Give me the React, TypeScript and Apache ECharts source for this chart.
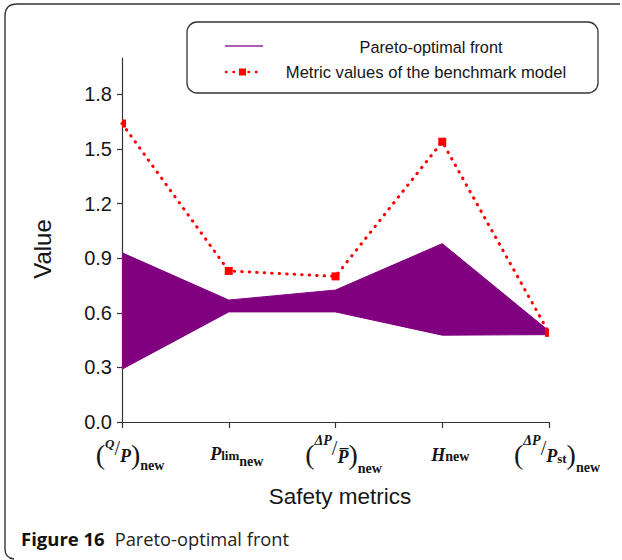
import React, { useEffect, useRef } from "react";
import * as echarts from "echarts";

// ---- data ----
const categories = ["Q/P", "Plim", "ΔP/P̄", "H", "ΔP/Pst"];
const categoryLabels = [
  "{pr|(}{q0|Q}{sl|/}{p0|P}{pr|)}{n0|new}",
  "{p1|P}{lim|lim}{n1|new}",
  "{pr|(}{d2|ΔP}{sl|/}{p2|P\u0305}{pr|)}{n2|new}",
  "{p3|H}{n3|new}",
  "{pr|(}{d2|ΔP}{sl|/}{p4|P}{st|st}{pr|)}{n4|new}",
];
const frontUpper = [0.93, 0.67, 0.725, 0.98, 0.5];
const frontLower = [0.29, 0.605, 0.605, 0.477, 0.48];
const benchmark = [1.64, 0.83, 0.8, 1.54, 0.49];
const yTicks = [0, 0.3, 0.6, 0.9, 1.2, 1.5, 1.8];
const legendNames = ["Pareto-optimal front", "Metric values of the benchmark model"];
const captionBold = "Figure 16";
const captionText = "Pareto-optimal front";

const PURPLE = "#800080";
const RED = "#ff0000";
const INK = "#161616";
const SANS = "'Liberation Sans', Arial, sans-serif";
const SERIF = "'Liberation Serif', 'DejaVu Serif', serif";
const CAP = "'Open Sans', 'Noto Sans', sans-serif";
const FRAME_D = "M 620 4 L 17 4 Q 5 4 5 16 L 5 549 Q 5 558 14 559";

const tok = (fontSize: number, top: number, lh: number, bold = true, italic = true) => ({
  fontFamily: SERIF,
  fontSize,
  fontWeight: bold ? "bold" : "normal",
  fontStyle: italic ? "italic" : "normal",
  lineHeight: lh,
  verticalAlign: "top",
  padding: [top, 0, 0, 0],
  color: INK,
});

const rich: any = {
  pr: { ...tok(28, 8, 30, false, false) },
  sl: { ...tok(20, 6, 24, false, false) },
  q0: tok(13, 5, 20),
  p0: tok(18, 15, 20),
  n0: tok(14, 26, 20, true, false),
  p1: tok(18, 13, 20),
  lim: tok(13, 17, 20, true, false),
  n1: tok(14, 22, 20, true, false),
  d2: { ...tok(14, 1, 20), fontStyle: "italic" },
  p2: tok(18, 16, 20),
  n2: tok(14, 29, 20, true, false),
  p3: tok(18, 14, 20),
  n3: tok(14, 17, 20, true, false),
  p4: tok(18, 15, 20),
  st: tok(13, 20, 20, true, false),
  n4: tok(14, 28, 20, true, false),
};

function buildOption(): any {
  const last = benchmark.length - 1;
  return {
    animation: false,
    backgroundColor: "#ffffff",
    grid: { left: 122, right: 73, top: 58, bottom: 138, containLabel: false, outerBoundsMode: "none" },
    xAxis: {
      type: "category",
      data: categories,
      boundaryGap: false,
      axisLine: { lineStyle: { color: "#333", width: 1.2 } },
      axisTick: { show: true, length: 6, alignWithLabel: true, lineStyle: { color: "#333", width: 1.2 } },
      axisLabel: {
        interval: 0,
        margin: 10,
        padding: [0, 0, 0, 16],
        formatter: (_v: string, i: number) => categoryLabels[i],
        rich,
      },
      splitLine: { show: false },
      name: "Safety metrics",
      nameLocation: "middle",
      nameGap: 63,
      nameTextStyle: { fontFamily: SANS, fontSize: 22.5, color: INK, padding: [0, 0, 0, 9] },
    },
    yAxis: {
      type: "value",
      min: 0,
      max: 2.0,
      interval: 0.3,
      axisLine: { show: true, lineStyle: { color: "#333", width: 1.2 } },
      axisTick: { show: true, length: 5, customValues: yTicks, lineStyle: { color: "#333", width: 1.2 } },
      axisLabel: {
        customValues: yTicks,
        margin: 10,
        fontFamily: SANS,
        fontSize: 20,
        color: INK,
        formatter: (v: number) => v.toFixed(1),
      },
      splitLine: { show: false },
      name: "Value",
      nameLocation: "middle",
      nameRotate: 90,
      nameGap: 68,
      nameTextStyle: { fontFamily: SANS, fontSize: 24, color: INK, padding: [0, 18, 0, 0] },
    },
    series: [
      {
        name: "front-lower",
        type: "line",
        stack: "front",
        data: frontLower,
        symbol: "none",
        silent: true,
        lineStyle: { color: PURPLE, width: 1 },
        z: 2,
      },
      {
        name: legendNames[0],
        type: "line",
        stack: "front",
        data: frontUpper.map((u, i) => +(u - frontLower[i]).toFixed(3)),
        symbol: "none",
        silent: true,
        lineStyle: { color: PURPLE, width: 1 },
        areaStyle: { color: PURPLE, opacity: 1 },
        z: 2,
      },
      {
        name: legendNames[1],
        type: "line",
        clip: false,
        data: benchmark.map((v, i) => ({
          value: v,
          symbolSize: i === 0 || i === last ? [4, 8] : 8,
          symbolOffset: i === 0 ? [2, 0] : i === last ? [-2, 0] : [0, 0],
        })),
        symbol: "rect",
        itemStyle: { color: RED },
        lineStyle: { color: RED, width: 3, type: [0.5, 7], cap: "round" },
        z: 5,
      },
    ],
    graphic: [
      {
        type: "figframe",
        x: 0,
        y: 0,
        silent: true,
        style: { fill: "none", stroke: "#333", lineWidth: 1.4 },
      },
      {
        type: "rect",
        shape: { x: 187, y: 22, width: 411, height: 71, r: 10 },
        style: { fill: "#fff", stroke: "#333", lineWidth: 1.3 },
        z: 10,
      },
      {
        type: "line",
        shape: { x1: 225, y1: 46, x2: 263, y2: 46 },
        style: { stroke: "#93279a", lineWidth: 1.6 },
        z: 11,
      },
      {
        type: "text",
        x: 431,
        y: 47,
        style: { text: legendNames[0], fontFamily: SANS, fontSize: 16.3, fill: INK, align: "center", verticalAlign: "middle" },
        z: 11,
      },
      {
        type: "line",
        shape: { x1: 226, y1: 72, x2: 261, y2: 72 },
        style: { stroke: RED, lineWidth: 2.5, lineDash: [0.5, 7], lineCap: "round" },
        z: 11,
      },
      {
        type: "rect",
        shape: { x: 239, y: 68.5, width: 7, height: 7 },
        style: { fill: RED },
        z: 11,
      },
      {
        type: "text",
        x: 426,
        y: 72,
        style: { text: legendNames[1], fontFamily: SANS, fontSize: 16.6, fill: INK, align: "center", verticalAlign: "middle" },
        z: 11,
      },
      {
        type: "text",
        x: 21,
        y: 538,
        style: {
          text: `{b|${captionBold}}{r|${captionText}}`,
          verticalAlign: "middle",
          rich: {
            b: { fontFamily: CAP, fontWeight: "bold", fontSize: 18.5, fill: "#111" },
            r: { fontFamily: CAP, fontWeight: "normal", fontSize: 18.3, fill: "#222", padding: [0, 0, 0, 10] },
          },
        },
        z: 11,
      },
    ],
  };
}

export default function App() {
  const ref = useRef<HTMLDivElement>(null);
  useEffect(() => {
    if (!ref.current) return;
    echarts.graphic.registerShape("figframe", echarts.graphic.extendPath(FRAME_D, {}) as any);
    const chart = echarts.init(ref.current, null, { renderer: "svg" });
    chart.setOption(buildOption());
    return () => chart.dispose();
  }, []);
  return (
    <div
      ref={ref}
      style={{ position: "absolute", left: 0, top: 0, width: 622, height: 560, background: "#fff" }}
    />
  );
}
